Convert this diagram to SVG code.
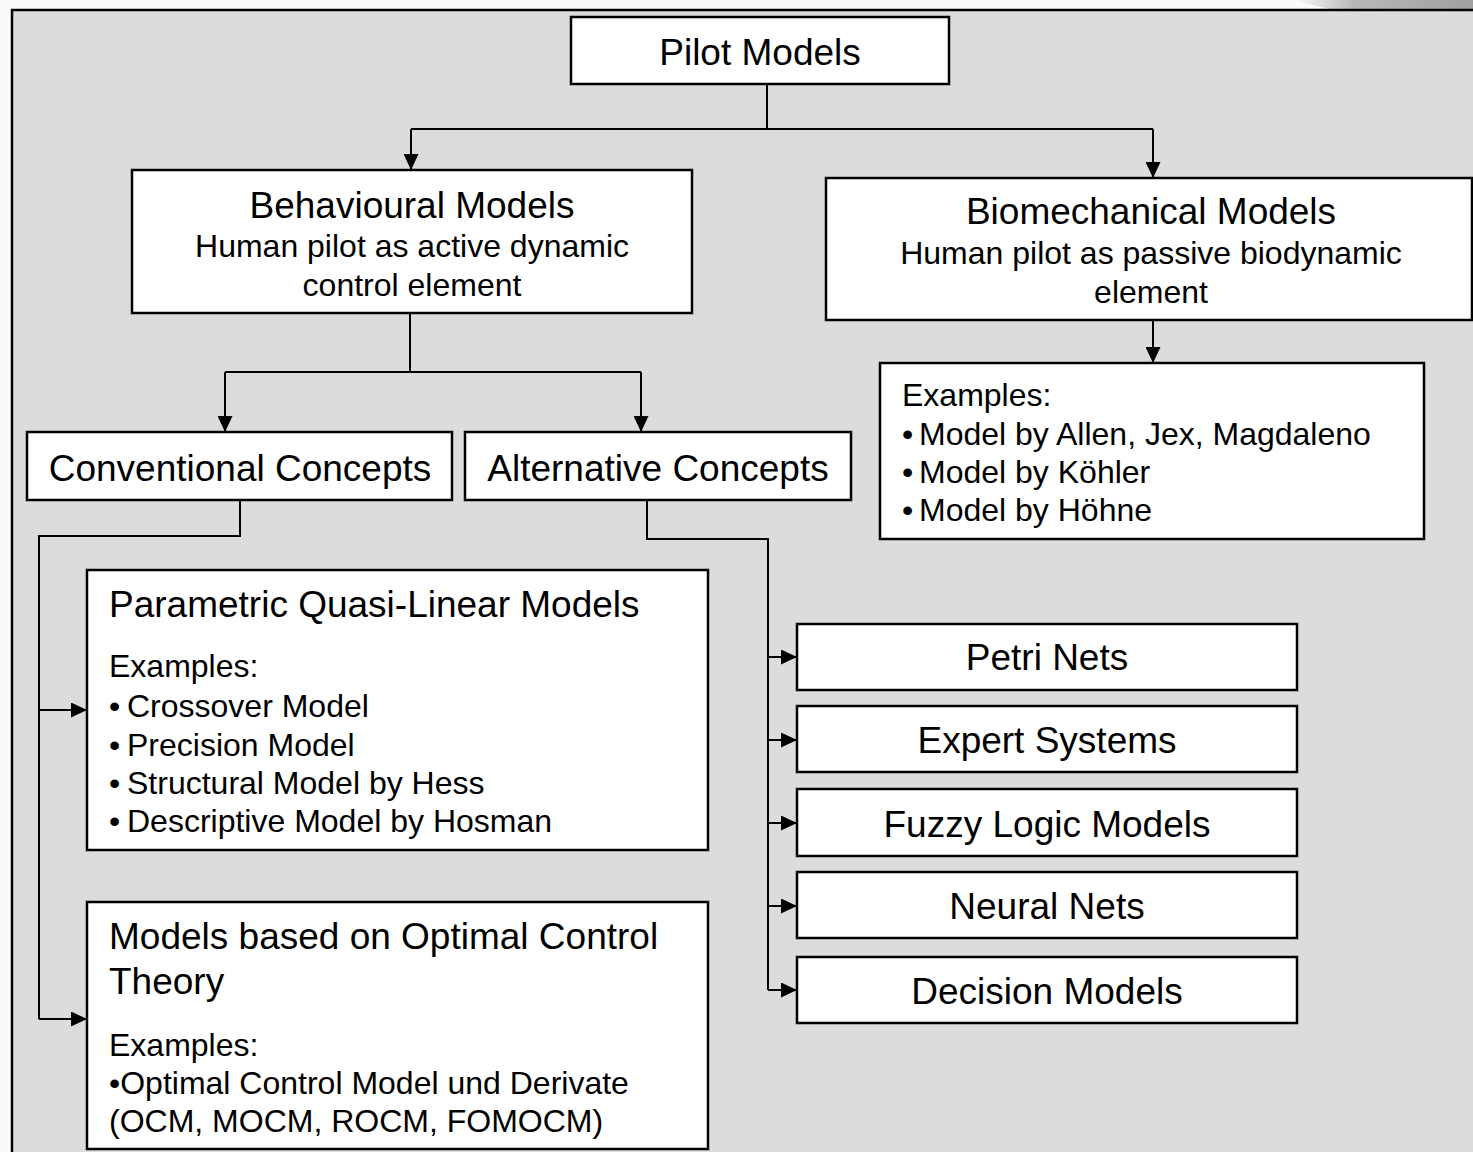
<svg xmlns="http://www.w3.org/2000/svg" width="1473" height="1152" viewBox="0 0 1473 1152">
<defs>
<style>
.box{fill:#ffffff;stroke:#000000;stroke-width:2.5}
.ln{fill:none;stroke:#000000;stroke-width:2}
.arr{marker-end:url(#ah)}
text{font-family:"Liberation Sans",Arial,sans-serif;fill:#000000}
.t{font-size:37px}
.s{font-size:32px}
.c{text-anchor:middle}
</style>
<marker id="ah" viewBox="0 0 16 15" refX="16" refY="7.5" markerWidth="16" markerHeight="15" markerUnits="userSpaceOnUse" orient="auto">
<path d="M0,0 L16,7.5 L0,15 z" fill="#000000"/>
</marker>
<linearGradient id="sw" x1="0" y1="0" x2="1" y2="0">
<stop offset="0" stop-color="#ffffff"/>
<stop offset="0.35" stop-color="#b8b8b8"/>
<stop offset="1" stop-color="#a0a0a0"/>
</linearGradient>
</defs>
<rect x="0" y="0" width="1473" height="1152" fill="#fafafa"/>
<path d="M1290,0 L1473,0 L1473,9 L1330,9 Z" fill="url(#sw)"/>
<rect x="12" y="10" width="1475" height="1160" fill="#dcdcdc" stroke="#000000" stroke-width="2.5"/>

<g id="connectors">
<path class="ln" d="M767,84 V129"/>
<path class="ln" d="M411,129 H1153"/>
<path class="ln arr" d="M411,129 V170"/>
<path class="ln arr" d="M1153,129 V178"/>
<path class="ln arr" d="M1153,320 V363"/>
<path class="ln" d="M410,313 V372"/>
<path class="ln" d="M225,372 H641"/>
<path class="ln arr" d="M225,372 V432"/>
<path class="ln arr" d="M641,372 V432"/>
<path class="ln" d="M240,500 V536 H39 V1019"/>
<path class="ln arr" d="M39,710 H87"/>
<path class="ln arr" d="M39,1019 H87"/>
<path class="ln" d="M647,500 V539 H768 V990"/>
<path class="ln arr" d="M768,657 H797"/>
<path class="ln arr" d="M768,740 H797"/>
<path class="ln arr" d="M768,823 H797"/>
<path class="ln arr" d="M768,906 H797"/>
<path class="ln arr" d="M768,990 H797"/>
</g>

<g id="pilot-models">
<rect class="box" x="571" y="17" width="378" height="67"/>
<text class="t c" x="760" y="65">Pilot Models</text>
</g>

<g id="behavioural-models">
<rect class="box" x="132" y="170" width="560" height="143"/>
<text class="t c" x="412" y="218">Behavioural Models</text>
<text class="s c" x="412" y="257">Human pilot as active dynamic</text>
<text class="s c" x="412" y="296">control element</text>
</g>

<g id="biomechanical-models">
<rect class="box" x="826" y="178" width="646" height="142"/>
<text class="t c" x="1151" y="224">Biomechanical Models</text>
<text class="s c" x="1151" y="264">Human pilot as passive biodynamic</text>
<text class="s c" x="1151" y="303">element</text>
</g>

<g id="biomechanical-examples">
<rect class="box" x="880" y="363" width="544" height="176"/>
<text class="s" x="902" y="406">Examples:</text>
<text class="s" x="902" y="445">•</text><text class="s" x="919" y="445">Model by Allen, Jex, Magdaleno</text>
<text class="s" x="902" y="483">•</text><text class="s" x="919" y="483">Model by Köhler</text>
<text class="s" x="902" y="521">•</text><text class="s" x="919" y="521">Model by Höhne</text>
</g>

<g id="conventional-concepts">
<rect class="box" x="27" y="432" width="425" height="68"/>
<text class="t c" x="240" y="481">Conventional Concepts</text>
</g>

<g id="alternative-concepts">
<rect class="box" x="465" y="432" width="386" height="68"/>
<text class="t c" x="658" y="481">Alternative Concepts</text>
</g>

<g id="parametric-models">
<rect class="box" x="87" y="570" width="621" height="280"/>
<text class="t" x="109" y="617">Parametric Quasi-Linear Models</text>
<text class="s" x="109" y="677">Examples:</text>
<text class="s" x="109" y="717">•</text><text class="s" x="127" y="717">Crossover Model</text>
<text class="s" x="109" y="756">•</text><text class="s" x="127" y="756">Precision Model</text>
<text class="s" x="109" y="794">•</text><text class="s" x="127" y="794">Structural Model by Hess</text>
<text class="s" x="109" y="832">•</text><text class="s" x="127" y="832">Descriptive Model by Hosman</text>
</g>

<g id="optimal-control-models">
<rect class="box" x="87" y="902" width="621" height="247"/>
<text class="t" x="109" y="949">Models based on Optimal Control</text>
<text class="t" x="109" y="994">Theory</text>
<text class="s" x="109" y="1056">Examples:</text>
<text class="s" x="109" y="1094">•Optimal Control Model und Derivate</text>
<text class="s" x="109" y="1132">(OCM, MOCM, ROCM, FOMOCM)</text>
</g>

<g id="petri-nets">
<rect class="box" x="797" y="624" width="500" height="66"/>
<text class="t c" x="1047" y="670">Petri Nets</text>
</g>
<g id="expert-systems">
<rect class="box" x="797" y="706" width="500" height="66"/>
<text class="t c" x="1047" y="753">Expert Systems</text>
</g>
<g id="fuzzy-logic-models">
<rect class="box" x="797" y="789" width="500" height="67"/>
<text class="t c" x="1047" y="837">Fuzzy Logic Models</text>
</g>
<g id="neural-nets">
<rect class="box" x="797" y="872" width="500" height="66"/>
<text class="t c" x="1047" y="919">Neural Nets</text>
</g>
<g id="decision-models">
<rect class="box" x="797" y="957" width="500" height="66"/>
<text class="t c" x="1047" y="1004">Decision Models</text>
</g>
</svg>
